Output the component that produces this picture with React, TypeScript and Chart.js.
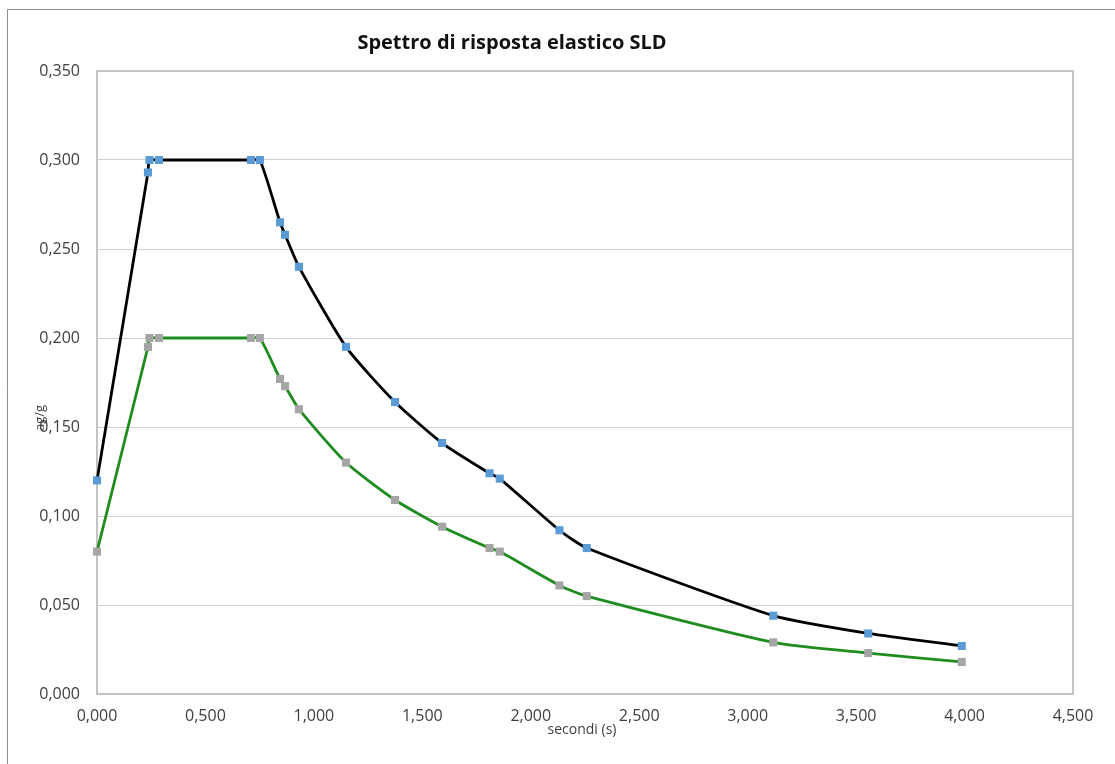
import React, { useEffect, useRef } from "react";
import { Chart, registerables } from "chart.js";

Chart.register(...registerables);

// Periods T (s)
const periods = [0.0, 0.235, 0.242, 0.286, 0.71, 0.751, 0.844, 0.867, 0.931, 1.148, 1.374, 1.591, 1.81, 1.857, 2.132, 2.258, 3.118, 3.556, 3.987];
// Spectrum (black line, blue markers)
const seriesBlack = [0.12, 0.293, 0.3, 0.3, 0.3, 0.3, 0.265, 0.258, 0.24, 0.195, 0.164, 0.141, 0.124, 0.121, 0.092, 0.082, 0.044, 0.034, 0.027];
// Spectrum (green line, grey markers)
const seriesGreen = [0.08, 0.195, 0.2, 0.2, 0.2, 0.2, 0.177, 0.173, 0.16, 0.13, 0.109, 0.094, 0.082, 0.08, 0.061, 0.055, 0.029, 0.023, 0.018];

const xRange = [0, 4.5];
const xStep = 0.5;
const yRange = [0, 0.35];
const yStep = 0.05;

const TITLE = "Spettro di risposta elastico SLD";
const X_TITLE = "secondi (s)";
const Y_TITLE = "ag/g";

const fmt = (v: number) => Number(v).toFixed(3).replace(".", ",");

const FONT = "'Open Sans', 'Noto Sans', sans-serif";

const decorPlugin = {
  id: "decor",
  beforeDraw(chart: any) {
    const { ctx, width, height } = chart;
    ctx.save();
    ctx.fillStyle = "#ffffff";
    ctx.fillRect(0, 0, width, height);
    ctx.strokeStyle = "#8f8f8f";
    ctx.lineWidth = 1;
    ctx.beginPath();
    ctx.moveTo(7.5, height);
    ctx.lineTo(7.5, 9.5);
    ctx.lineTo(width, 9.5);
    ctx.stroke();
    ctx.restore();
  },
  beforeDatasetsDraw(chart: any) {
    const { ctx, chartArea } = chart;
    const { left, top, right, bottom } = chartArea;
    ctx.save();
    ctx.strokeStyle = "#c4c4c4";
    ctx.lineWidth = 2;
    ctx.strokeRect(left, top, right - left, bottom - top);
    ctx.restore();
  },
  afterDraw(chart: any) {
    const { ctx, chartArea } = chart;
    ctx.save();
    ctx.fillStyle = "#111111";
    ctx.font = `bold 20px ${FONT}`;
    ctx.textAlign = "center";
    ctx.textBaseline = "middle";
    ctx.fillText(TITLE, chartArea.left + 415, 43);

    ctx.fillStyle = "#404040";
    ctx.font = `14px ${FONT}`;
    ctx.fillText(X_TITLE, (chartArea.left + chartArea.right) / 2 - 3, chartArea.bottom + 36);

    ctx.font = `13px ${FONT}`;
    ctx.translate(40, 418);
    ctx.rotate(-Math.PI / 2);
    ctx.fillText(Y_TITLE, 0, 0);
    ctx.restore();
  },
};

export default function App() {
  const canvasRef = useRef<HTMLCanvasElement | null>(null);

  useEffect(() => {
    const canvas = canvasRef.current;
    if (!canvas) return;
    const black = periods.map((x, i) => ({ x, y: seriesBlack[i] }));
    const green = periods.map((x, i) => ({ x, y: seriesGreen[i] }));

    const chart = new Chart(canvas, {
      type: "scatter",
      data: {
        datasets: [
          {
            label: "Sd",
            data: green,
            showLine: true,
            clip: false,
            borderColor: "#1e8c1e",
            borderWidth: 2.8,
            tension: 0.2,
            pointStyle: "rect",
            pointRadius: 5.7,
            pointBackgroundColor: "#a5a5a5",
            pointBorderColor: "#a5a5a5",
            pointBorderWidth: 0,
          },
          {
            label: "Se",
            data: black,
            showLine: true,
            clip: false,
            borderColor: "#000000",
            borderWidth: 2.8,
            tension: 0.2,
            pointStyle: "rect",
            pointRadius: 5.7,
            pointBackgroundColor: "#5b9bd5",
            pointBorderColor: "#5b9bd5",
            pointBorderWidth: 0,
          },
        ],
      },
      options: {
        responsive: false,
        animation: false,
        layout: { padding: { top: 71, right: 42, left: 0, bottom: 0 } },
        plugins: {
          legend: { display: false },
          title: { display: false },
          tooltip: { enabled: false },
        },
        scales: {
          x: {
            type: "linear",
            min: xRange[0],
            max: xRange[1],
            afterFit: (s: any) => {
              s.height = 70;
            },
            grid: { display: false, drawTicks: false },
            border: { display: false },
            ticks: {
              stepSize: xStep,
              padding: 13,
              color: "#404040",
              font: { family: FONT, size: 16 },
              callback: (v: any) => fmt(v),
              maxRotation: 0,
            },
          },
          y: {
            type: "linear",
            min: yRange[0],
            max: yRange[1],
            afterFit: (s: any) => {
              s.width = 97;
            },
            grid: { color: "#d0d0d0", lineWidth: 1, drawTicks: false },
            border: { display: false },
            ticks: {
              stepSize: yStep,
              padding: 17,
              color: "#404040",
              font: { family: FONT, size: 16 },
              callback: (v: any) => fmt(v),
            },
          },
        },
      },
      plugins: [decorPlugin],
    });
    return () => chart.destroy();
  }, []);

  return (
    <div style={{ position: "absolute", left: 0, top: 0, width: 1115, height: 764 }}>
      <canvas ref={canvasRef} width={1115} height={764} style={{ display: "block" }} />
    </div>
  );
}
